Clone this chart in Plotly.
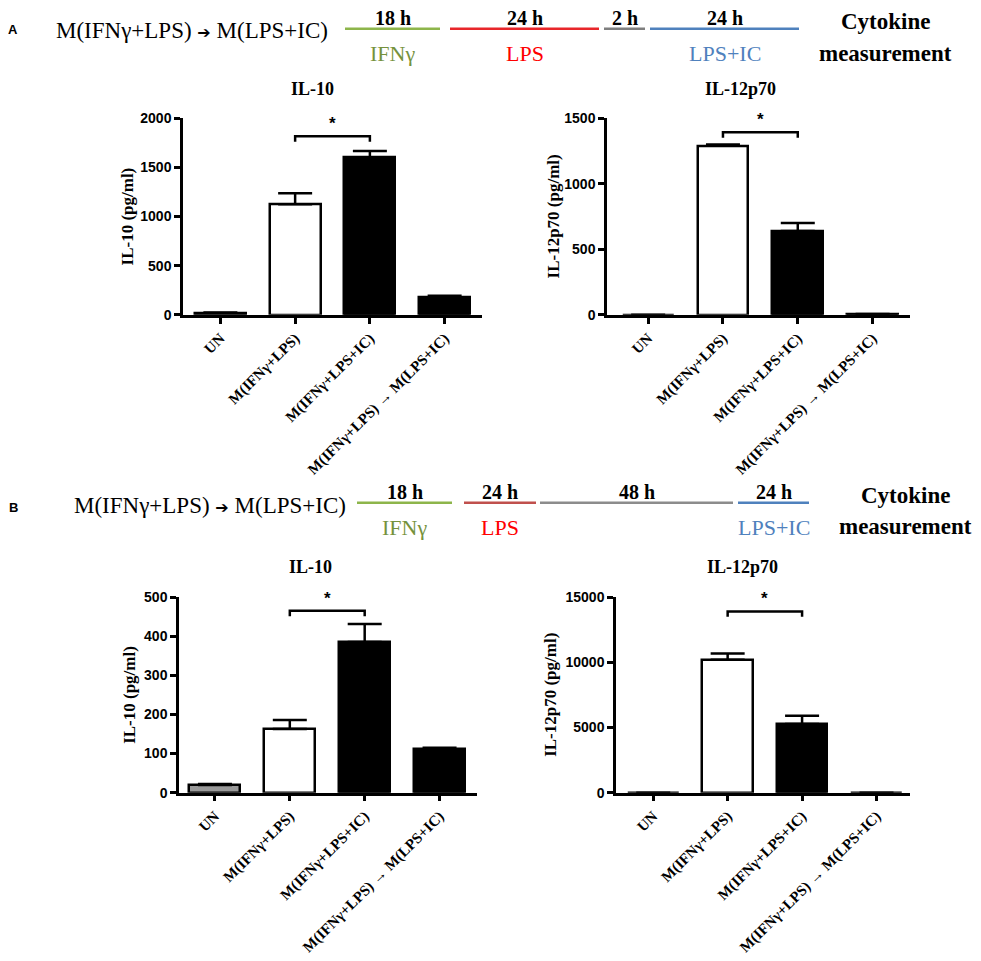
import plotly.graph_objects as go

W, H = 981, 961

# bar groups (same in every panel)
groups = ["UN", "M(IFNγ+LPS)", "M(IFNγ+LPS+IC)", "M(IFNγ+LPS) → M(LPS+IC)"]
fills = ["#999999", "white", "black", "black"]

# values (mean, SEM upper arm)
a_il10 = [20, 1125, 1600, 180]
a_il10_err = [3, 110, 67, 15]
a_il12 = [0, 1290, 640, 5]
a_il12_err = [0, 8, 60, 2]
b_il10 = [20, 163, 385, 112]
b_il10_err = [2, 23, 46, 3]
b_il12 = [0, 10200, 5270, 0]
b_il12_err = [0, 470, 630, 0]

# significance bracket height per panel (between bar 1 and bar 2)
sig_y = [1816, 1392, 465, 13900]

serif = "Liberation Serif"
sans = "Liberation Sans"


def px_x(p):
    return p / W


def px_y(p):
    return 1 - p / H


def note(x, y, text, font, **kw):
    # text placed by its centre, in pixels from the top-left corner
    d = dict(x=px_x(x), y=px_y(y), xref="paper", yref="paper", text=text,
             showarrow=False, xanchor="center", yanchor="middle", font=font)
    d.update(kw)
    return d


# panel setup: values, errors, y max, dtick, title, y title, pixel box, x range
panels = [
    dict(v=a_il10, e=a_il10_err, ymax=2000, dt=500, title="IL-10", ytitle="IL-10 (pg/ml)",
         box=(183, 482, 112, 312), xr=[-0.5, 3.5], tx=312, ty=82, yx=127),
    dict(v=a_il12, e=a_il12_err, ymax=1500, dt=500, title="IL-12p70", ytitle="IL-12p70 (pg/ml)",
         box=(607, 910, 112, 312), xr=[-0.55, 3.5], tx=740, ty=82, yx=553),
    dict(v=b_il10, e=b_il10_err, ymax=500, dt=100, title="IL-10", ytitle="IL-10 (pg/ml)",
         box=(179, 477, 599, 798), xr=[-0.48, 3.5], tx=310, ty=568, yx=130),
    dict(v=b_il12, e=b_il12_err, ymax=15000, dt=5000, title="IL-12p70", ytitle="IL-12p70 (pg/ml)",
         box=(616, 910, 599, 798), xr=[-0.5, 3.45], tx=742, ty=568, yx=551),
]

fig = go.Figure()
annotations = []
shapes = []
layout_axes = {}

for i, p in enumerate(panels):
    n = "" if i == 0 else str(i + 1)
    xa, ya = "x" + n, "y" + n
    x0, x1, y0, y1 = p["box"]

    fig.add_trace(go.Bar(
        x=list(range(len(groups))), y=p["v"], width=0.68,
        marker=dict(color=fills, line=dict(color="black", width=2.5)),
        error_y=dict(type="data", symmetric=False, array=p["e"],
                     arrayminus=[0] * len(groups), color="black", thickness=2.5, width=17),
        xaxis=xa, yaxis=ya, showlegend=False, hoverinfo="skip",
    ))

    # significance bracket
    s = sig_y[i]
    drop = p["ymax"] * 0.028
    fig.add_trace(go.Scatter(
        x=[1, 1, 2, 2], y=[s - drop, s, s, s - drop], mode="lines",
        line=dict(color="black", width=2.5), xaxis=xa, yaxis=ya,
        showlegend=False, hoverinfo="skip",
    ))
    annotations.append(dict(x=1.5, y=s, xref=xa, yref=ya, text="<b>*</b>", showarrow=False,
                            xanchor="center", yanchor="bottom", yshift=1,
                            font=dict(family=sans, size=17, color="black")))

    layout_axes["xaxis" + n] = dict(
        domain=[px_x(x0), px_x(x1)], range=p["xr"], anchor=ya,
        tickvals=list(range(len(groups))), ticktext=["<b>%s</b>" % g for g in groups],
        tickangle=-45, ticks="outside", ticklen=6, tickwidth=2.5, tickcolor="black",
        showline=True, linewidth=2.5, linecolor="black", showgrid=False, zeroline=False,
        tickfont=dict(family=serif, size=15, color="black"),
    )
    layout_axes["yaxis" + n] = dict(
        domain=[px_y(y1), px_y(y0)], range=[0, p["ymax"]], dtick=p["dt"], anchor=xa,
        tickformat="d", ticks="outside", ticklen=6, tickwidth=2.5, tickcolor="black",
        showline=True, linewidth=2.5, linecolor="black", showgrid=False, zeroline=False,
        tickfont=dict(family=sans, size=14, color="black", weight="bold"),
    )

    annotations.append(note(p["tx"], p["ty"], "<b>%s</b>" % p["title"],
                            dict(family=serif, size=18, color="black")))
    annotations.append(note(p["yx"], (y0 + y1) / 2, "<b>%s</b>" % p["ytitle"],
                            dict(family=serif, size=17, color="black"), textangle=-90))

# treatment timelines above each row
timelines = [
    dict(letter="A", ly=22, label_x=192, label_y=23, line_y=21, top_y=10, bot_y=46,
         cyto_x=885, cyto_y=(14, 46),
         segs=[(345, 440, "#8DB54B", "18 h", "IFNγ", "#76923C"),
               (450, 599, "#E8262A", "24 h", "LPS", "#FF0000"),
               (604, 645, "#7F7F7F", "2 h", "", ""),
               (650, 799, "#4F81BD", "24 h", "LPS+IC", "#4F81BD")]),
    dict(letter="B", ly=508, label_x=210, label_y=506, line_y=503, top_y=492, bot_y=528,
         cyto_x=905, cyto_y=(496, 527),
         segs=[(357, 452, "#8DB54B", "18 h", "IFNγ", "#76923C"),
               (464, 536, "#C0504D", "24 h", "LPS", "#FF0000"),
               (540, 733, "#8C8C8C", "48 h", "", ""),
               (738, 809, "#4F81BD", "24 h", "LPS+IC", "#4F81BD")]),
]

arrow = "<span style='font-family:DejaVu Sans;font-size:16px'>➔</span>"

for t in timelines:
    annotations.append(note(13, t["ly"], "<b>%s</b>" % t["letter"],
                            dict(family=sans, size=13, color="black")))
    annotations.append(note(t["label_x"], t["label_y"], "M(IFNγ+LPS) %s M(LPS+IC)" % arrow,
                            dict(family=serif, size=23, color="black")))
    for (a, b, col, dur, lab, lcol) in t["segs"]:
        shapes.append(dict(type="line", xref="paper", yref="paper",
                           x0=px_x(a), x1=px_x(b), y0=px_y(t["line_y"]), y1=px_y(t["line_y"]),
                           line=dict(color=col, width=2.5)))
        mid = (a + b) / 2
        annotations.append(note(mid, t["top_y"], "<b>%s</b>" % dur,
                                dict(family=serif, size=20, color="black")))
        if lab:
            annotations.append(note(mid, t["bot_y"], lab,
                                    dict(family=serif, size=22, color=lcol)))
    for word, yy in zip(["Cytokine", "measurement"], t["cyto_y"]):
        annotations.append(note(t["cyto_x"], yy, "<b>%s</b>" % word,
                                dict(family=serif, size=23, color="black")))

fig.update_layout(
    width=W, height=H, margin=dict(l=0, r=0, t=0, b=0),
    paper_bgcolor="white", plot_bgcolor="white",
    annotations=annotations, shapes=shapes, bargap=0,
    **layout_axes,
)

fig.write_html("out.html", config={"displayModeBar": False},
               post_script="document.body.style.margin='0';")
